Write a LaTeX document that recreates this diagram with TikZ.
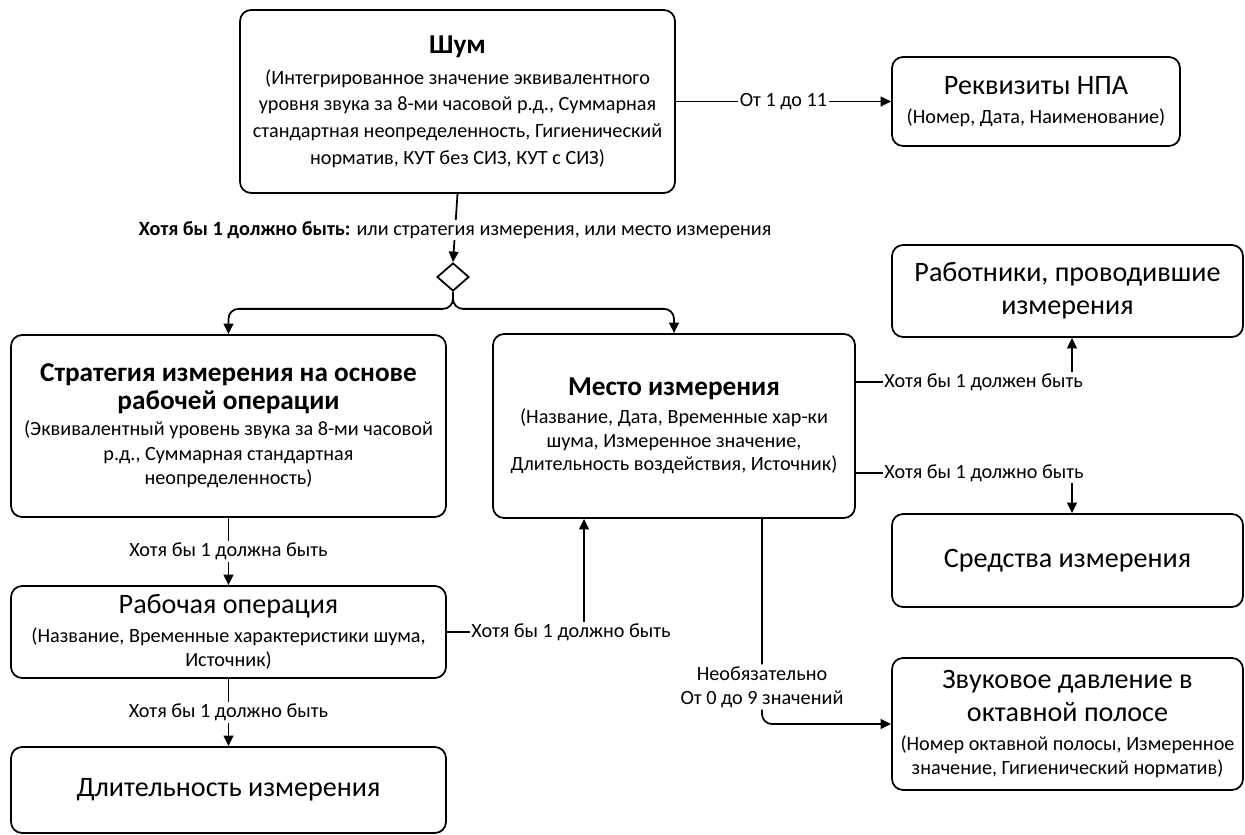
\documentclass[tikz,border=0pt]{standalone}
\usepackage{fontspec}
\setmainfont{Carlito}
\usetikzlibrary{arrows.meta,shapes.geometric}
\newcommand{\boldhd}{\fontsize{15.5}{16}\selectfont\bfseries}
\newcommand{\bighd}{\fontsize{16}{19}\selectfont}

\begin{document}
\begin{tikzpicture}[x=0.02cm, y=-0.02cm, line width=1pt,
    font=\fontsize{11.5}{14}\selectfont,
    box/.style={draw, rounded corners=0.22cm, align=center, inner sep=2pt},
    arr/.style={-{Triangle[length=6pt,width=5.5pt]}},
    lbl/.style={fill=white, inner sep=1pt, align=center}]
  \useasboundingbox (0,0) rectangle (1245,835);

  % blocks
  \node[box, minimum width=8.7cm, minimum height=3.66cm] (shum) at (457.5,101.5)
    {{\boldhd Шум}\\[3.5pt](Интегрированное значение эквивалентного\\[1.2pt]уровня звука за 8-ми часовой р.д., Суммарная\\[1.2pt]стандартная неопределенность, Гигиенический\\[1.2pt]норматив, КУТ без СИЗ, КУТ с СИЗ)};
  \node[box, minimum width=5.76cm, minimum height=1.78cm] (rekv) at (1036,101.5)
    {{\bighd Реквизиты НПА}\\[2.5pt](Номер, Дата, Наименование)};
  \node[diamond, draw, inner sep=0pt, minimum width=0.64cm, minimum height=0.56cm] (dia) at (453,277) {};
  \node[box, minimum width=8.7cm, minimum height=3.64cm] (strat) at (228.5,426)
    {{\boldhd Стратегия измерения на основе}\\[2pt]{\boldhd рабочей операции}\\[0.5pt](Эквивалентный уровень звука за 8-ми часовой\\р.д., Суммарная стандартная\\неопределенность)};
  \node[box, minimum width=7.24cm, minimum height=3.68cm] (mesto) at (674,426)
    {{\boldhd Место измерения}\\[2pt](Название, Дата, Временные хар-ки\\[-0.5pt]шума, Измеренное значение,\\[-0.5pt]Длительность воздействия, Источник)};
  \node[box, minimum width=7.02cm, minimum height=1.84cm] (rabotn) at (1067.5,291)
    {{\bighd Работники, проводившие}\\[5pt]{\bighd измерения}};
  \node[box, minimum width=7.02cm, minimum height=1.86cm] (sredstva) at (1067.5,560.5)
    {{\bighd Средства измерения}};
  \node[box, minimum width=7.02cm, minimum height=2.64cm] (zvuk) at (1067.5,724)
    {{\bighd Звуковое давление в}\\[5pt]{\bighd октавной полосе}\\[2.5pt](Номер октавной полосы, Измеренное\\значение, Гигиенический норматив)};
  \node[box, minimum width=8.7cm, minimum height=1.84cm] (rabop) at (228.5,632)
    {{\bighd Рабочая операция}\\[2.5pt](Название, Временные характеристики шума,\\[-0.5pt]Источник)};
  \node[box, minimum width=8.7cm, minimum height=1.72cm] (dlit) at (228.5,790)
    {{\bighd Длительность измерения}};

  % connectors
  \draw[arr] (shum.south) -- node[lbl, pos=0.53]
    {{\bfseries Хотя бы 1 должно быть:} или стратегия измерения, или место измерения} (dia.north);
  \draw[arr, rounded corners=0.2cm] (dia.south) -- ++(0,17) -| (strat.north);
  \draw[arr, rounded corners=0.2cm] (dia.south) -- ++(0,17) -| (mesto.north);
  \draw[arr] (shum.east) -- node[lbl] {От 1 до 11} (rekv.west);
  \draw[arr] ([yshift=0.88cm]mesto.east) -| node[lbl, pos=0.06, anchor=west]
    {Хотя бы 1 должен быть} ([xshift=0.09cm]rabotn.south);
  \draw[arr] ([yshift=-0.94cm]mesto.east) -| node[lbl, pos=0.06, anchor=west]
    {Хотя бы 1 должно быть} ([xshift=0.09cm]sredstva.north);
  \draw[arr] (rabop.east) -| node[lbl, pos=0.08, anchor=west]
    {Хотя бы 1 должно быть} ([xshift=-1.8cm]mesto.south);
  \draw[arr, rounded corners=0.2cm] ([xshift=1.76cm]mesto.south) |- node[lbl, pos=0.41]
    {Необязательно\\От 0 до 9 значений} (zvuk.west);
  \draw[arr] (strat.south) -- node[lbl] {Хотя бы 1 должна быть} (rabop.north);
  \draw[arr] (rabop.south) -- node[lbl] {Хотя бы 1 должно быть} (dlit.north);
\end{tikzpicture}
\end{document}
